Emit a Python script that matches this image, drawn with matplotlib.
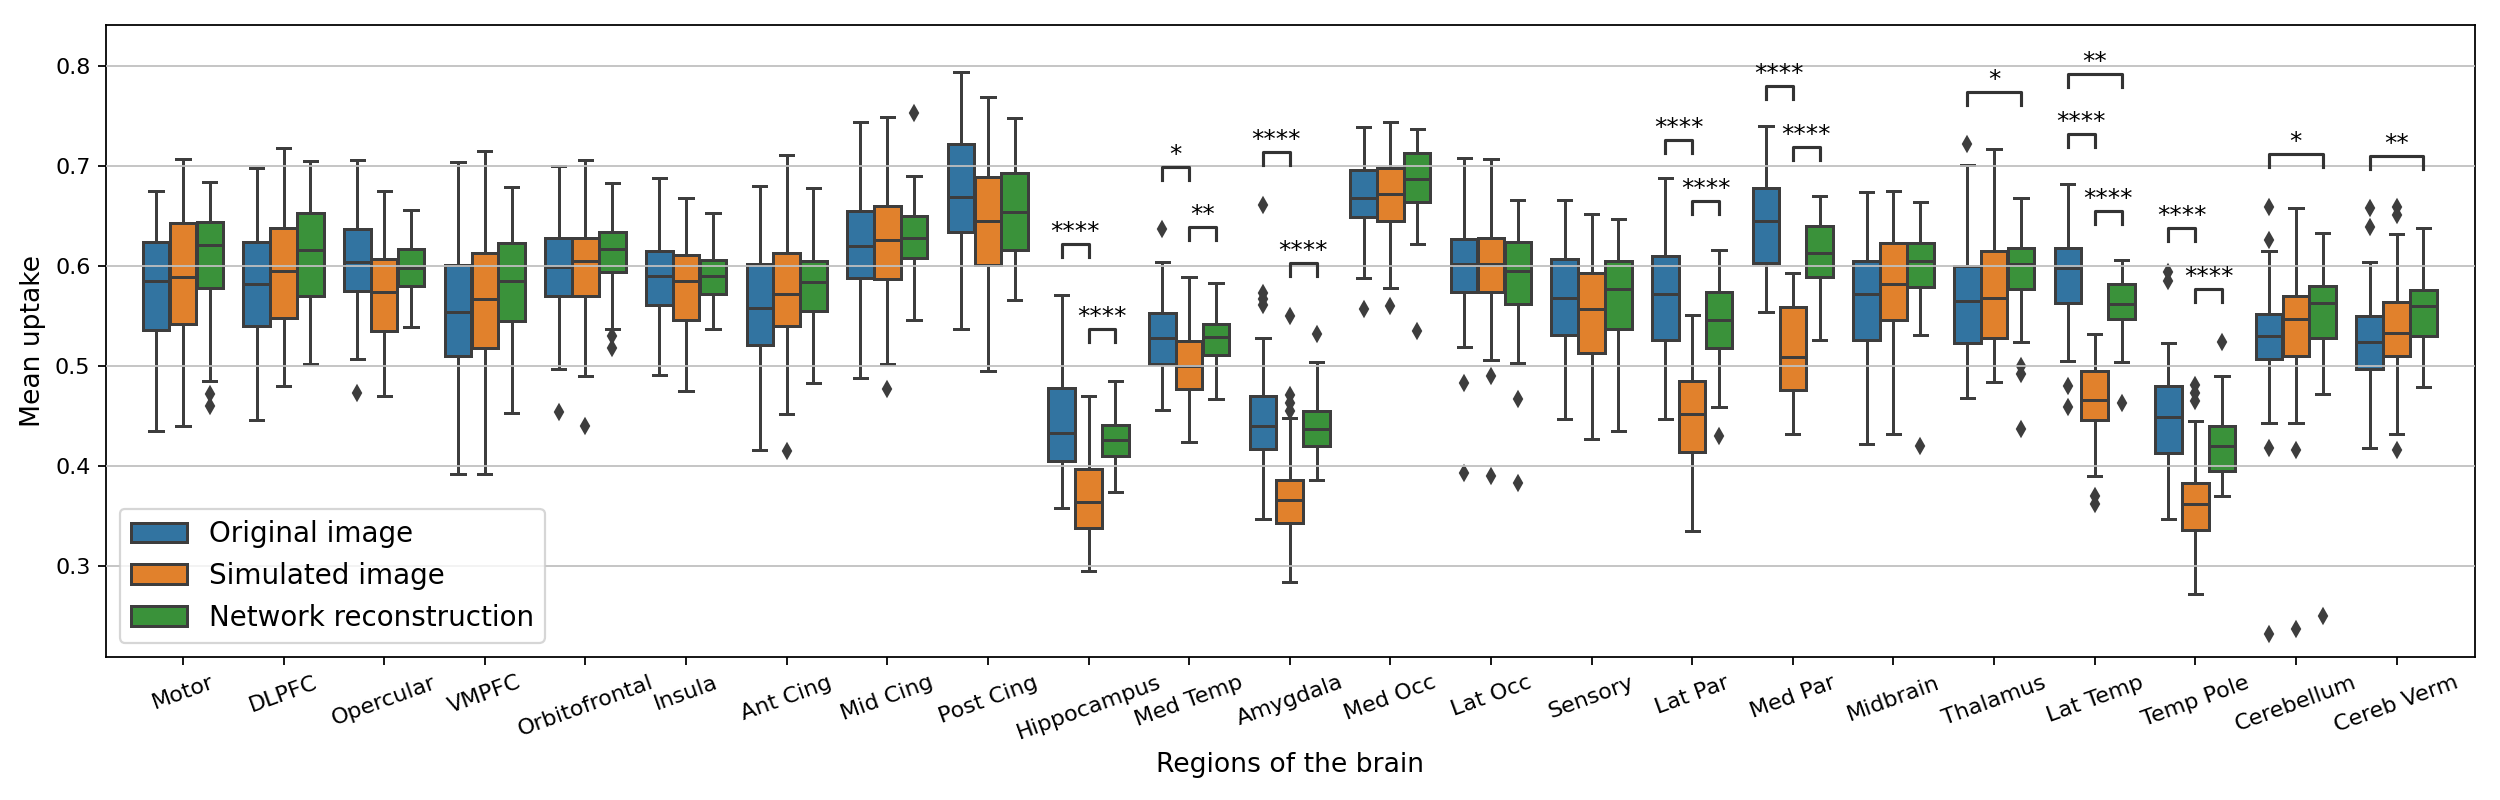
import matplotlib
matplotlib.use("Agg")
import matplotlib.pyplot as plt
from matplotlib.patches import Patch

regions = ["Motor", "DLPFC", "Opercular", "VMPFC", "Orbitofrontal", "Insula", "Ant Cing",
           "Mid Cing", "Post Cing", "Hippocampus", "Med Temp", "Amygdala", "Med Occ",
           "Lat Occ", "Sensory", "Lat Par", "Med Par", "Midbrain", "Thalamus", "Lat Temp",
           "Temp Pole", "Cerebellum", "Cereb Verm"]
series_names = ["Original image", "Simulated image", "Network reconstruction"]

# ---- Original image (box statistics per region) ----
orig_whishi = [.675, .698, .706, .704, .700, .688, .680, .744, .794, .571, .604, .528, .739,
               .708, .666, .688, .740, .674, .701, .682, .523, .615, .604]
orig_q3 = [.624, .624, .637, .601, .628, .615, .602, .655, .722, .478, .553, .470, .696,
           .627, .607, .610, .678, .605, .600, .618, .480, .552, .550]
orig_med = [.585, .582, .604, .554, .599, .590, .558, .620, .669, .433, .528, .440, .668,
            .602, .568, .572, .645, .572, .565, .598, .449, .530, .524]
orig_q1 = [.536, .540, .575, .510, .570, .561, .521, .588, .634, .405, .502, .417, .649,
           .574, .531, .526, .603, .526, .523, .563, .413, .507, .497]
orig_whislo = [.435, .446, .507, .392, .497, .491, .416, .488, .537, .358, .456, .347, .588,
               .519, .447, .447, .554, .422, .468, .505, .347, .443, .418]
orig_fliers = [[], [], [.473], [], [.454], [], [], [], [], [], [.637], [.661, .573, .567, .561],
               [.557], [.483, .393], [], [], [], [], [.722], [.480, .459], [.594, .585],
               [.659, .626, .418, .232], [.658, .639]]

# ---- Simulated image ----
sim_whishi = [.707, .718, .675, .715, .706, .668, .711, .749, .769, .470, .589, .448, .744,
              .707, .652, .551, .593, .675, .717, .532, .445, .658, .632]
sim_q3 = [.643, .638, .607, .613, .628, .611, .613, .660, .689, .397, .525, .386, .698,
          .628, .593, .485, .559, .623, .615, .495, .383, .570, .564]
sim_med = [.589, .595, .574, .567, .605, .585, .572, .626, .645, .364, .500, .366, .672,
           .602, .557, .452, .509, .582, .568, .466, .362, .547, .533]
sim_q1 = [.542, .548, .535, .518, .570, .546, .540, .587, .601, .338, .477, .343, .645,
          .574, .513, .414, .476, .546, .528, .446, .336, .510, .510]
sim_whislo = [.440, .480, .470, .392, .490, .475, .452, .502, .495, .295, .424, .284, .578,
              .506, .427, .335, .432, .432, .484, .390, .272, .443, .432]
sim_fliers = [[], [], [], [], [.440], [], [.415], [.477], [], [], [], [.550, .471, .463, .455],
              [.560], [.490, .390], [], [], [], [], [], [.370, .362], [.481, .473, .465],
              [.416, .237], [.659, .651, .416]]

# ---- Network reconstruction ----
net_whishi = [.684, .705, .656, .679, .683, .653, .678, .690, .748, .485, .583, .504, .737,
              .666, .647, .616, .670, .664, .668, .606, .490, .633, .638]
net_q3 = [.644, .653, .617, .623, .634, .606, .605, .650, .693, .441, .542, .455, .713,
          .624, .605, .574, .640, .623, .618, .582, .440, .580, .576]
net_med = [.621, .616, .598, .585, .617, .590, .584, .628, .654, .426, .529, .437, .687,
           .595, .577, .546, .613, .605, .602, .562, .420, .563, .560]
net_q1 = [.578, .570, .580, .545, .594, .572, .555, .608, .616, .410, .511, .420, .664,
          .562, .537, .518, .589, .579, .577, .547, .395, .528, .530]
net_whislo = [.485, .502, .539, .453, .537, .537, .483, .546, .566, .374, .467, .386, .622,
              .503, .435, .459, .526, .531, .524, .504, .370, .472, .479]
net_fliers = [[.472, .460], [], [], [], [.530, .518], [], [], [.753], [], [], [], [.532],
              [.535], [.467, .383], [], [.430], [], [.420], [.500, .492, .437], [.463], [.524],
              [.250], []]

# ---- significance annotations: (region, hue a, hue b, bracket height, label) ----
annotations = [
    ("Hippocampus", 0, 1, 0.622, "****"), ("Hippocampus", 1, 2, 0.537, "****"),
    ("Med Temp", 0, 1, 0.699, "*"), ("Med Temp", 1, 2, 0.639, "**"),
    ("Amygdala", 0, 1, 0.714, "****"), ("Amygdala", 1, 2, 0.603, "****"),
    ("Lat Par", 0, 1, 0.726, "****"), ("Lat Par", 1, 2, 0.665, "****"),
    ("Med Par", 0, 1, 0.780, "****"), ("Med Par", 1, 2, 0.719, "****"),
    ("Thalamus", 0, 2, 0.774, "*"),
    ("Lat Temp", 0, 1, 0.732, "****"), ("Lat Temp", 0, 2, 0.792, "**"), ("Lat Temp", 1, 2, 0.655, "****"),
    ("Temp Pole", 0, 1, 0.638, "****"), ("Temp Pole", 1, 2, 0.577, "****"),
    ("Cerebellum", 0, 2, 0.712, "*"),
    ("Cereb Verm", 0, 2, 0.710, "**"),
]

colors = ["#3274a1", "#e1812c", "#3a923a"]
edge = "#3d3d3d"
hue_width = 0.8 / 3
offsets = [-hue_width, 0.0, hue_width]

fig = plt.figure(figsize=(15.625, 5), dpi=160)
ax = fig.add_axes([0.0424, 0.179, 0.9476, 0.790])

series = [
    (orig_whislo, orig_q1, orig_med, orig_q3, orig_whishi, orig_fliers),
    (sim_whislo, sim_q1, sim_med, sim_q3, sim_whishi, sim_fliers),
    (net_whislo, net_q1, net_med, net_q3, net_whishi, net_fliers),
]
lw = 1.35
for h, (wlo, q1, med, q3, whi, fl) in enumerate(series):
    stats = []
    for i in range(len(regions)):
        stats.append(dict(whislo=wlo[i], q1=q1[i], med=med[i], q3=q3[i], whishi=whi[i],
                          fliers=fl[i]))
    pos = [i + offsets[h] for i in range(len(regions))]
    ax.bxp(stats, positions=pos, widths=hue_width * 0.99, patch_artist=True,
           manage_ticks=False,
           boxprops=dict(facecolor=colors[h], edgecolor=edge, linewidth=lw),
           medianprops=dict(color=edge, linewidth=lw),
           whiskerprops=dict(color=edge, linewidth=lw),
           capprops=dict(color=edge, linewidth=lw),
           flierprops=dict(marker="d", markerfacecolor=edge, markeredgecolor=edge,
                           markersize=4.5, linestyle="none"))

leg_h = 0.0127
for reg, a, b, yb, txt in annotations:
    i = regions.index(reg)
    x1, x2 = i + offsets[a], i + offsets[b]
    ax.plot([x1, x1, x2, x2], [yb - leg_h, yb, yb, yb - leg_h], color="#333333", lw=1.4,
            zorder=4)
    ax.annotate(txt, xy=((x1 + x2) / 2, yb), xytext=(0, 0), textcoords="offset points",
                ha="center", va="bottom", fontsize=11, color="black")

ax.set_xlim(-0.765, len(regions) - 1 + 0.78)
ax.set_ylim(0.209, 0.841)
ax.set_xticks(range(len(regions)))
ax.set_xticklabels(regions, rotation=20, fontsize=10)
ax.set_yticks([0.3, 0.4, 0.5, 0.6, 0.7, 0.8])
ax.tick_params(axis="y", labelsize=10)
ax.set_axisbelow(False)
ax.yaxis.grid(True, color="#c0c0c0", linewidth=0.8)
ax.set_xlabel("Regions of the brain", fontsize=12)
ax.set_ylabel("Mean uptake", fontsize=12)

handles = [Patch(facecolor=c, edgecolor=edge, linewidth=lw) for c in colors]
ax.legend(handles, series_names, loc="lower left", fontsize=12.5)

fig.savefig("out.png", dpi=160)
